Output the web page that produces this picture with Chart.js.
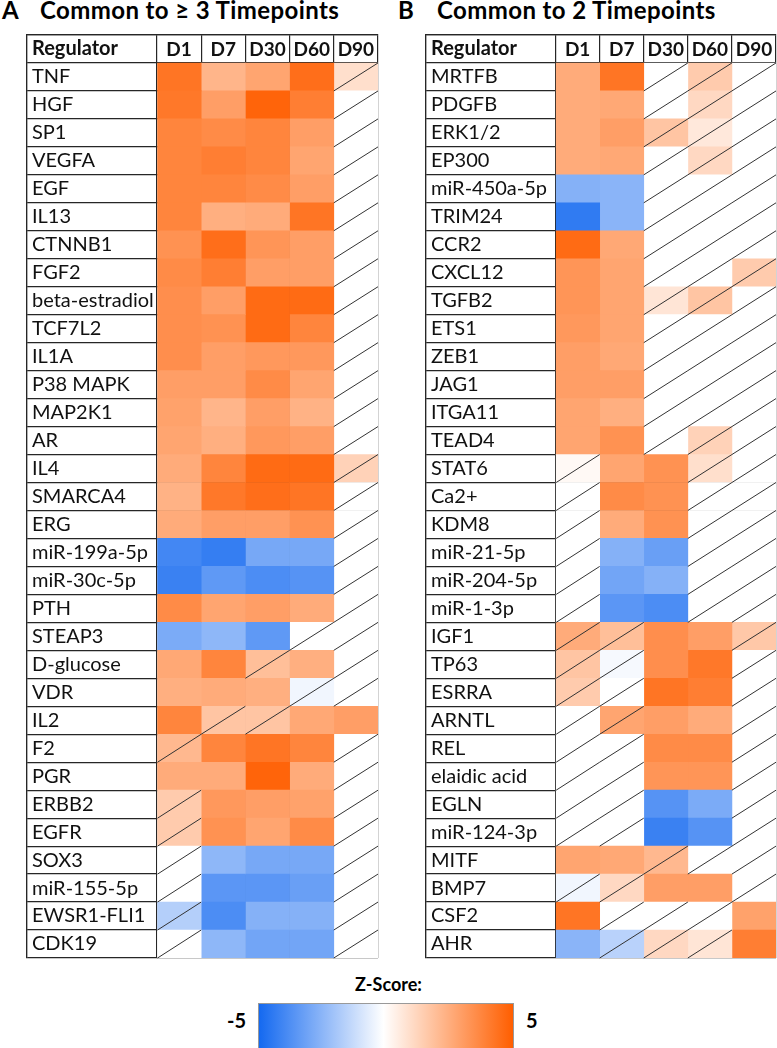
<!DOCTYPE html>
<html>
<head>
<meta charset="utf-8">
<script src="https://cdn.jsdelivr.net/npm/chart.js@4.4.0/dist/chart.umd.min.js"></script>
<style>
  body { margin: 0; width: 777px; height: 1048px; position: relative; background: #fff; font-family: Lato, sans-serif; overflow: hidden; color: #000; }
  .ttl { position: absolute; top: -5px; font-weight: bold; font-size: 24px; letter-spacing: 0.4px; white-space: nowrap; }
  .box { position: absolute; top: 34px; }
  #zlab { position: absolute; left: 0; width: 777px; top: 973px; text-align: center; font-weight: bold; font-size: 18px; }
  #zbar { position: absolute; left: 258px; top: 1003px; width: 254px; height: 44px; border: 1px solid #999;
          background: linear-gradient(to right, rgb(20,105,240), #fff 49%, rgb(255,94,0)); }
  .zt { position: absolute; top: 1008px; font-weight: bold; font-size: 20px; }
</style>
</head>
<body>
<div class="ttl" style="left:2px">A</div>
<div class="ttl" style="left:40px">Common to ≥ 3 Timepoints</div>
<div class="ttl" style="left:398px">B</div>
<div class="ttl" style="left:437px">Common to 2 Timepoints</div>

<div class="box" style="left:26px"><canvas id="tableA" width="353" height="925"></canvas></div>
<div class="box" style="left:425px"><canvas id="tableB" width="352" height="925"></canvas></div>

<div id="zlab">Z-Score:</div>
<div id="zbar"></div>
<div class="zt" style="left:227px">-5</div>
<div class="zt" style="left:526px">5</div>

<script>
// timepoints (columns)
const timepoints = ['D1', 'D7', 'D30', 'D60', 'D90'];

// A: common to >= 3 timepoints
const regsA = ['TNF', 'HGF', 'SP1', 'VEGFA', 'EGF', 'IL13', 'CTNNB1', 'FGF2', 'beta-estradiol', 'TCF7L2',
  'IL1A', 'P38 MAPK', 'MAP2K1', 'AR', 'IL4', 'SMARCA4', 'ERG', 'miR-199a-5p', 'miR-30c-5p', 'PTH',
  'STEAP3', 'D-glucose', 'VDR', 'IL2', 'F2', 'PGR', 'ERBB2', 'EGFR', 'SOX3', 'miR-155-5p',
  'EWSR1-FLI1', 'CDK19'];
const zA = [
  [4.3, 2.3, 2.8, 4.5, 1.0],
  [4.2, 3.0, 4.8, 4.0, null],
  [3.8, 3.6, 3.8, 3.0, null],
  [3.8, 4.0, 3.8, 2.8, null],
  [3.8, 3.8, 3.6, 3.0, null],
  [3.8, 2.5, 2.6, 4.3, null],
  [3.4, 4.5, 3.3, 3.0, null],
  [3.6, 4.0, 3.0, 3.0, null],
  [3.5, 3.0, 4.6, 4.6, null],
  [3.5, 3.4, 4.6, 3.8, null],
  [3.5, 3.0, 3.2, 3.2, null],
  [3.0, 3.0, 3.6, 2.8, null],
  [2.9, 2.3, 3.0, 2.4, null],
  [2.8, 2.5, 3.2, 3.0, null],
  [2.6, 3.8, 4.6, 4.6, 1.4],
  [2.4, 4.2, 4.5, 4.3, null],
  [2.6, 3.0, 3.0, 3.4, null],
  [-4.0, -4.3, -2.9, -2.9, null],
  [-4.2, -3.4, -3.8, -3.6, null],
  [3.6, 2.8, 3.0, 2.6, null],
  [-2.8, -2.4, -3.4, null, null],
  [2.7, 3.8, 2.0, 2.5, null],
  [2.5, 2.6, 2.5, -0.3, null],
  [3.8, 1.8, 1.8, 2.7, 3.0],
  [2.2, 3.8, 4.3, 3.8, null],
  [2.6, 2.6, 4.8, 2.6, null],
  [1.6, 3.2, 3.0, 2.9, null],
  [1.6, 3.4, 2.8, 3.6, null],
  [null, -2.4, -2.9, -2.9, null],
  [null, -3.5, -3.5, -3.2, null],
  [-1.6, -3.8, -2.6, -2.6, null],
  [null, -2.4, -3.0, -3.0, null]
];
// 1 = crossed-out cell
const slashA = [
  [0,0,0,0,1], [0,0,0,0,1], [0,0,0,0,1], [0,0,0,0,1], [0,0,0,0,1], [0,0,0,0,1], [0,0,0,0,1], [0,0,0,0,1],
  [0,0,0,0,1], [0,0,0,0,1], [0,0,0,0,1], [0,0,0,0,1], [0,0,0,0,1], [0,0,0,0,1], [0,0,0,0,1], [0,0,0,0,1],
  [0,0,0,0,1], [0,0,0,0,1], [0,0,0,0,1], [0,0,0,0,1], [0,0,0,1,1], [0,0,1,0,1], [0,0,0,1,1], [0,1,1,0,0],
  [1,0,0,0,1], [0,0,0,0,1], [1,0,0,0,1], [1,0,0,0,1], [1,0,0,0,1], [1,0,0,0,1], [1,0,0,0,1], [1,0,0,0,1]
];

// B: common to 2 timepoints
const regsB = ['MRTFB', 'PDGFB', 'ERK1/2', 'EP300', 'miR-450a-5p', 'TRIM24', 'CCR2', 'CXCL12', 'TGFB2', 'ETS1',
  'ZEB1', 'JAG1', 'ITGA11', 'TEAD4', 'STAT6', 'Ca2+', 'KDM8', 'miR-21-5p', 'miR-204-5p', 'miR-1-3p',
  'IGF1', 'TP63', 'ESRRA', 'ARNTL', 'REL', 'elaidic acid', 'EGLN', 'miR-124-3p', 'MITF', 'BMP7',
  'CSF2', 'AHR'];
const zB = [
  [2.6, 4.3, null, 1.6, null],
  [2.6, 2.7, null, 1.2, null],
  [2.6, 3.0, 1.8, 0.7, null],
  [2.6, 2.7, null, 1.2, null],
  [-2.6, -2.5, null, null, null],
  [-4.4, -2.5, null, null, null],
  [4.6, 2.7, null, null, null],
  [3.3, 2.8, null, null, 1.6],
  [3.3, 2.8, 0.8, 1.8, null],
  [3.2, 2.8, null, null, null],
  [3.0, 2.7, null, null, null],
  [3.0, 3.0, null, null, null],
  [2.8, 2.5, null, null, null],
  [2.8, 3.4, null, 1.4, null],
  [0.2, 2.8, 3.4, 1.0, null],
  [null, 3.6, 3.4, null, null],
  [null, 2.6, 3.4, null, null],
  [null, -2.6, -3.2, null, null],
  [null, -3.0, -2.6, null, null],
  [null, -3.5, -3.8, null, null],
  [2.6, 2.0, 3.5, 3.0, 1.7],
  [1.8, -0.2, 3.5, 4.2, null],
  [1.6, null, 4.3, 4.0, null],
  [null, 2.8, 3.0, 2.6, null],
  [null, null, 3.6, 3.6, null],
  [null, null, 3.3, 3.3, null],
  [null, null, -3.6, -2.8, null],
  [null, null, -4.2, -3.6, null],
  [2.8, 2.7, 2.2, null, null],
  [-0.3, 1.2, 3.0, 3.0, null],
  [4.3, null, null, null, 2.9],
  [-2.5, -1.5, 1.2, 0.8, 4.0]
];
const slashB = [
  [0,0,1,1,1], [0,0,1,1,1], [0,0,1,1,1], [0,0,1,1,1], [0,0,1,1,1], [0,0,1,1,1], [0,0,1,1,1], [0,0,1,1,1],
  [0,0,1,1,1], [0,0,1,1,1], [0,0,1,1,1], [0,0,1,1,1], [0,0,1,1,1], [0,0,1,1,1], [1,0,0,1,1], [1,0,0,1,1],
  [1,0,0,1,1], [1,0,0,1,1], [1,0,0,1,1], [1,0,0,1,1], [1,1,0,0,1], [1,1,0,0,1], [1,1,0,0,1], [1,1,0,0,1],
  [1,1,0,0,1], [1,1,0,0,1], [1,1,0,0,1], [1,1,0,0,1], [0,0,1,1,1], [1,1,0,0,1], [0,1,1,1,0], [0,1,1,1,0]
];

const LINE = '#262626';
const FONT = 'Lato';
const X_MIN = -2.94;   // width of the regulator column, in cell widths

// white -> blue for negative, white -> orange for positive
function zColor(z) {
  if (z === null) return '#ffffff';
  const t = Math.min(Math.abs(z) / 5, 1);
  const end = z >= 0 ? [255, 94, 0] : [20, 105, 240];
  const c = end.map(e => Math.round(255 + (e - 255) * t));
  return 'rgb(' + c.join(',') + ')';
}

// crossed cells: line from bottom-left to top-right of each bar
const slashPlugin = {
  id: 'slash',
  afterDatasetsDraw(chart) {
    const ctx = chart.ctx;
    ctx.save();
    ctx.strokeStyle = '#333';
    ctx.lineWidth = 1;
    chart.data.datasets.forEach((ds, c) => {
      chart.getDatasetMeta(c).data.forEach((bar, i) => {
        if (!ds.slash[i]) return;
        const p = bar.getProps(['x', 'y', 'base', 'height'], true);
        ctx.beginPath();
        ctx.moveTo(p.base, p.y + p.height / 2);
        ctx.lineTo(p.x, p.y - p.height / 2);
        ctx.stroke();
      });
    });
    ctx.restore();
  }
};

function makeTable(id, regs, z, slash) {
  const xTicks = [X_MIN];
  timepoints.forEach((t, c) => { xTicks.push(c, c + 0.5); });
  xTicks.push(timepoints.length);

  const datasets = timepoints.map((t, c) => ({
    label: t,
    data: [null].concat(regs.map(() => [c, c + 1])),
    backgroundColor: ['#fff'].concat(z.map(r => zColor(r[c]))),
    slash: [0].concat(slash.map(r => r[c])),
    borderWidth: 0,
    barPercentage: 1,
    categoryPercentage: 1,
    grouped: false
  }));

  new Chart(document.getElementById(id), {
    type: 'bar',
    data: { labels: ['Regulator'].concat(regs), datasets: datasets },
    options: {
      indexAxis: 'y',
      responsive: false,
      animation: false,
      devicePixelRatio: 1,
      layout: { padding: 1 },
      plugins: { legend: { display: false }, tooltip: { enabled: false } },
      scales: {
        x: {
          type: 'linear',
          position: 'top',
          min: X_MIN,
          max: timepoints.length,
          z: 1,
          afterBuildTicks: s => { s.ticks = xTicks.map(v => ({ value: v })); },
          afterFit: s => { s.height = 0; s.paddingLeft = 0; s.paddingRight = 0; },
          grid: {
            drawTicks: false,
            lineWidth: 1.2,
            color: ctx => Number.isInteger(ctx.tick.value) || ctx.tick.value === X_MIN ? LINE : 'rgba(0,0,0,0)'
          },
          border: { display: true, color: LINE, width: 1.2 },
          ticks: {
            mirror: true,
            padding: 3,
            autoSkip: false,
            maxRotation: 0,
            color: '#111',
            font: { family: FONT, size: 19, weight: 'bold' },
            callback: v => {
              const k = v - 0.5;
              return Number.isInteger(k) && k >= 0 ? timepoints[k] : '';
            }
          }
        },
        y: {
          z: 1,
          afterFit: s => { s.width = 0; s.paddingTop = 0; s.paddingBottom = 0; },
          grid: { drawTicks: false, offset: true, lineWidth: 1.2, color: LINE },
          border: { display: true, color: LINE, width: 1.2 },
          ticks: {
            mirror: true,
            padding: 5,
            autoSkip: false,
            color: '#111',
            font: ctx => ({ family: FONT, size: 20, weight: ctx.index === 0 ? 'bold' : 'normal' })
          }
        }
      }
    },
    plugins: [slashPlugin]
  });
}

makeTable('tableA', regsA, zA, slashA);
makeTable('tableB', regsB, zB, slashB);
</script>
</body>
</html>
